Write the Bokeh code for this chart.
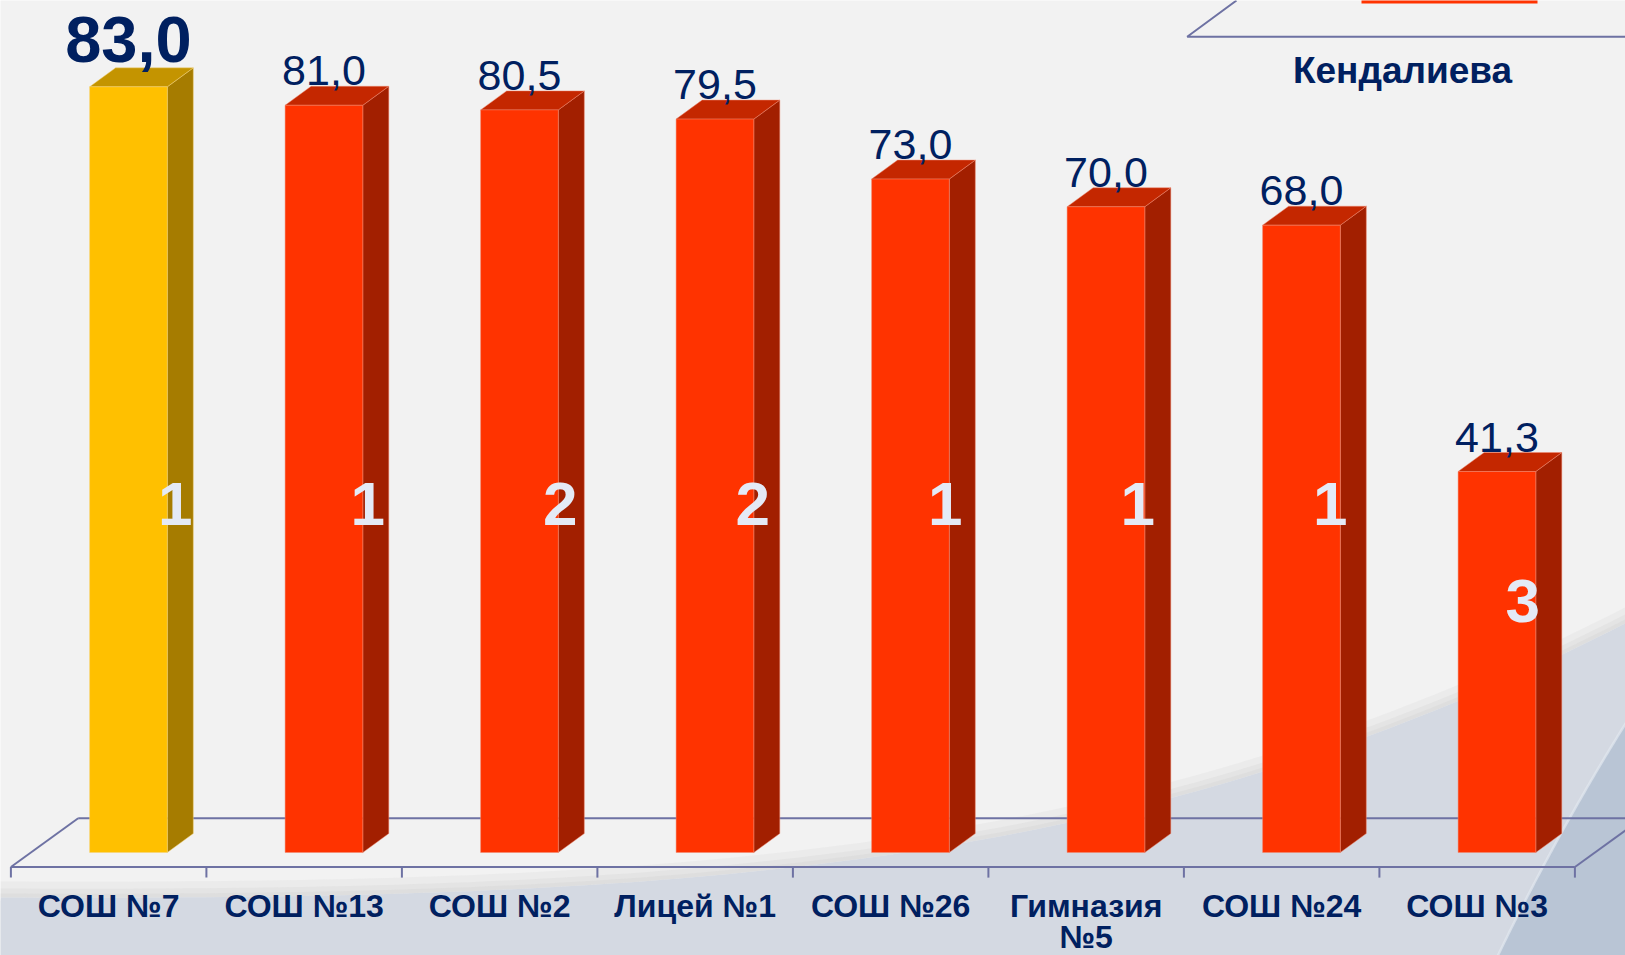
import numpy as np
from bokeh.plotting import figure
from bokeh.models import Range1d
from bokeh.core.properties import value
from bokeh.embed import file_html
from bokeh.resources import INLINE

# ---------------- data ----------------
categories = ["СОШ №7", "СОШ №13", "СОШ №2", "Лицей №1", "СОШ №26", "Гимназия\n№5", "СОШ №24", "СОШ №3"]
scores = [83.0, 81.0, 80.5, 79.5, 73.0, 70.0, 68.0, 41.3]
ranks = ["1", "1", "2", "2", "1", "1", "1", "3"]
series_name = "Кендалиева"

# ---------------- layout ----------------
W, H = 1625, 955
XS = 195.5      # px per category
YS = 9.225      # px per score unit
x_start = -10.4 / XS
y_start = -103.0 / YS

def px2x(px):
    return x_start + px / XS

def py2y(py):
    return y_start + (H - py) / YS

NAVY = "#002060"
FONT = "Liberation Sans"

p = figure(width=W, height=H,
           x_range=Range1d(x_start, x_start + W / XS),
           y_range=Range1d(y_start, y_start + H / YS),
           output_backend="svg", toolbar_location=None,
           x_axis_location=None, y_axis_location=None, min_border=0)
p.grid.visible = False
p.outline_line_color = None
p.background_fill_color = "#F2F2F2"
p.border_fill_color = "#F2F2F2"

# ---------------- background swoosh ----------------
def cubic(P0, P1, P2, P3, n=100):
    t = np.linspace(0, 1, n)[:, None]
    P = (1 - t) ** 3 * np.array(P0) + 3 * (1 - t) ** 2 * t * np.array(P1) \
        + 3 * (1 - t) * t ** 2 * np.array(P2) + t ** 3 * np.array(P3)
    return P[:, 0], P[:, 1]

cx, cy = cubic((0, 897), (700, 900), (1150, 870), (1640, 615))
# soft shadow bands above the boundary
for off, a in [(16, 0.25), (9, 0.35), (4, 0.45)]:
    sx = list(cx) + list(cx[::-1])
    sy = list(cy - off) + list(cy[::-1])
    p.patch([px2x(v) for v in sx], [py2y(v) for v in sy], fill_color="#D6D6D6",
            fill_alpha=a, line_color=None)
bx = list(cx) + [1660, 1660, -10]
by = list(cy) + [615, 980, 980]
p.patch([px2x(v) for v in bx], [py2y(v) for v in by], fill_color="#D4D9E2", line_color=None)
# darker right corner
dxs, dys = cubic((1632, 712), (1592, 775), (1542, 862), (1495, 960))
rx = list(dxs) + [1660, 1660]
ry = list(dys) + [980, 705]
p.patch([px2x(v) for v in rx], [py2y(v) for v in ry], fill_color="#B9C5D5", line_color=None)
p.line([px2x(v) for v in dxs], [py2y(v) for v in dys], line_color="#E3E8EF", line_width=2.5, line_alpha=0.7)

# ---------------- floor ----------------
FLOOR_C = "#6E72A3"
n = len(categories)
y_front = py2y(866.5)
y_back = py2y(817.7)
depth = (77.7 - 10.4) / XS
p.multi_line(
    xs=[[0, n], [depth, n + depth + 1], [0, depth], [n, n + depth]],
    ys=[[y_front, y_front], [y_back, y_back], [y_front, y_back], [y_front, y_back]],
    line_color=FLOOR_C, line_width=2)
tick_x = list(range(n + 1))
p.segment(x0=tick_x, y0=[y_front] * (n + 1), x1=tick_x, y1=[y_front - 1.15] * (n + 1),
          line_color=FLOOR_C, line_width=2)

# ---------------- 3D bars ----------------
OFF_L, OFF_R = 0.4026, 0.80
DX, DY = 0.133, 2.06
top_i = int(np.argmax(scores))
front_c = ["#FFC000" if i == top_i else "#FF3300" for i in range(n)]
side_c = ["#A67C00" if i == top_i else "#A21F00" for i in range(n)]
topf_c = ["#C49400" if i == top_i else "#C42700" for i in range(n)]
edge_c = ["#F5D27A" if i == top_i else "#F08A70" for i in range(n)]
L = [i + OFF_L for i in range(n)]
R = [i + OFF_R for i in range(n)]

side_xs = [[R[i], R[i] + DX, R[i] + DX, R[i]] for i in range(n)]
side_ys = [[0, DY, scores[i] + DY, scores[i]] for i in range(n)]
top_xs = [[L[i], L[i] + DX, R[i] + DX, R[i]] for i in range(n)]
top_ys = [[scores[i], scores[i] + DY, scores[i] + DY, scores[i]] for i in range(n)]
p.patches(side_xs, side_ys, fill_color=side_c, line_color=edge_c, line_width=0.8, line_alpha=0.6)
p.patches(top_xs, top_ys, fill_color=topf_c, line_color=edge_c, line_width=0.8, line_alpha=0.6)
p.quad(left=L, right=R, bottom=[0] * n, top=scores, fill_color=front_c,
       line_color=edge_c, line_width=0.8, line_alpha=0.6)

# ---------------- labels ----------------
def fmt(v):
    return f"{v:.1f}".replace(".", ",")

centers = [(L[i] + R[i]) / 2 for i in range(n)]
others = [i for i in range(n) if i != top_i]
p.text(x=[centers[i] for i in others], y=[scores[i] + DY + 1.68 for i in others],
       text=[fmt(scores[i]) for i in others], text_align="center",
       text_baseline="middle", text_color=NAVY,
       text_font=value(FONT), text_font_size="43px")
p.text(x=[centers[top_i]], y=[scores[top_i] + DY + 3.1], text=[fmt(scores[top_i])],
       text_align="center", text_baseline="middle", text_color=NAVY,
       text_font=value(FONT), text_font_size="65px", text_font_style="bold")

# rank numbers inside bars
p.text(x=[i + 0.84 - 0.0152 * i for i in range(n)], y=[min(0.66 * s, 37.8) for s in scores],
       text=ranks, text_align="center", text_baseline="middle", text_color="#E4EAF6",
       text_font=value(FONT), text_font_size="62px", text_font_style="bold")

# category labels
line_step = 31 / YS
lx, ly, lt = [], [], []
for i, c in enumerate(categories):
    for k, part in enumerate(c.split("\n")):
        lx.append(i + 0.5)
        ly.append(py2y(905) - k * line_step)
        lt.append(part)
p.text(x=lx, y=ly, text=lt, text_align="center", text_baseline="middle",
       text_color=NAVY, text_font=value(FONT), text_font_size="32px", text_font_style="bold")

# ---------------- legend ----------------
p.line([px2x(1236), px2x(1186.7), px2x(1660)], [py2y(0), py2y(36.3), py2y(36.3)],
       line_color=FLOOR_C, line_width=2)
p.quad(left=[px2x(1361)], right=[px2x(1537)], bottom=[py2y(3)], top=[py2y(-20)],
       fill_color="#FF3300", line_color=None)
p.text(x=[px2x(1402)], y=[py2y(70)], text=[series_name], text_align="center",
       text_baseline="middle", text_color=NAVY, text_font=value(FONT),
       text_font_size="37px", text_font_style="bold")

open("out.html", "w").write(file_html(p, INLINE))
